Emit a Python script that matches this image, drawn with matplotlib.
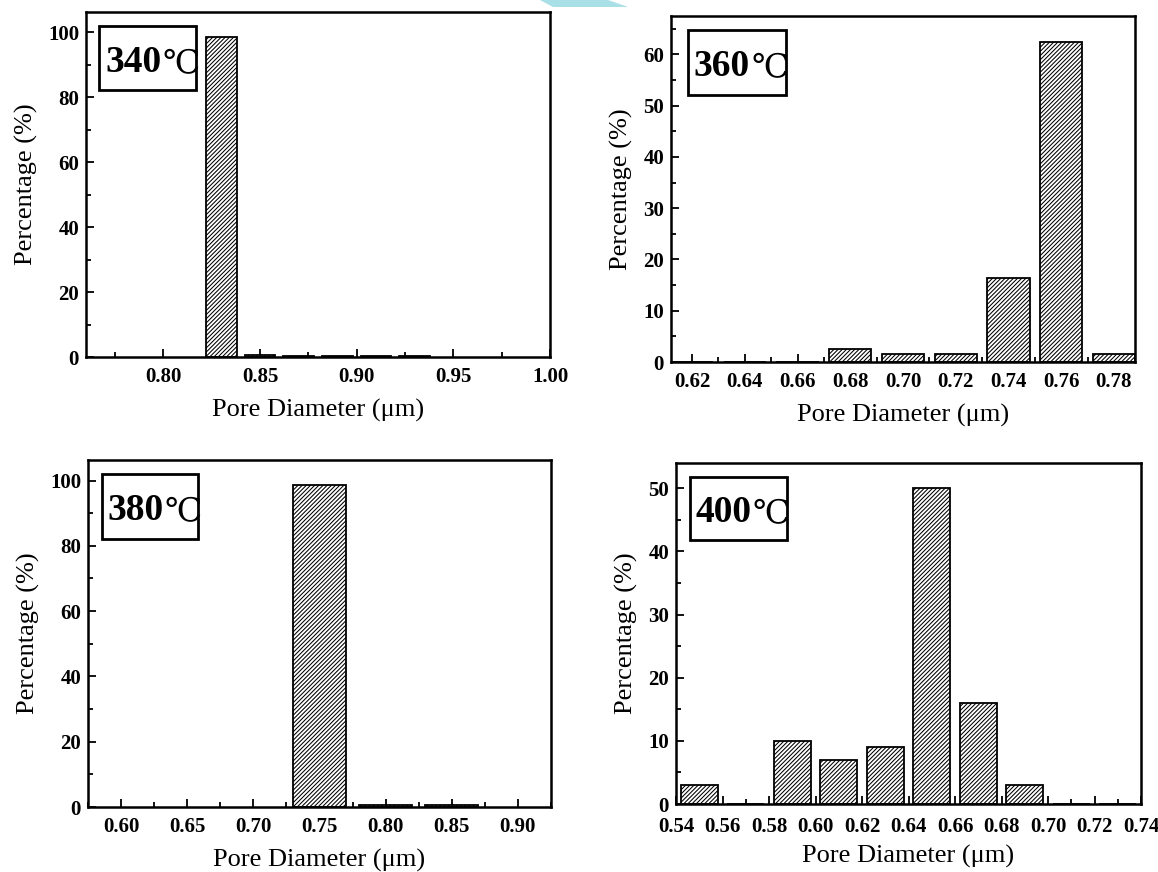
import matplotlib
matplotlib.use("Agg")
import matplotlib.pyplot as plt
from matplotlib.patches import Rectangle, Polygon
from matplotlib.ticker import MultipleLocator, FormatStrFormatter

plt.rcParams["font.family"] = ["Liberation Serif", "DejaVu Serif", "DejaVu Sans"]
plt.rcParams["hatch.linewidth"] = 0.75
plt.rcParams["hatch.color"] = "#333333"

W, H = 1158, 872

# ── Data ────────────────────────────────────────────────────────────────────
d340_x = [0.83, 0.85, 0.87, 0.89, 0.91, 0.93]
d340_y = [98.4, 0.6, 0.4, 0.2, 0.2, 0.2]

d360_x = [0.62, 0.64, 0.66, 0.68, 0.70, 0.72, 0.74, 0.76, 0.78]
d360_y = [0.0, 0.0, 0.0, 2.5, 1.5, 1.6, 16.3, 62.5, 1.6]

d380_x = [0.75, 0.80, 0.85]
d380_y = [98.6, 0.5, 0.5]

d400_x = [0.55, 0.57, 0.59, 0.61, 0.63, 0.65, 0.67, 0.69, 0.71, 0.73]
d400_y = [3.0, 0.0, 10.0, 7.0, 9.0, 50.0, 16.0, 3.0, 0.0, 0.0]

labels = ["340", "360", "380", "400"]

# panel geometry in pixels: left, right, top, bottom
panels = [
    dict(box=(86, 550, 12, 357), x=d340_x, y=d340_y, w=0.016, xlim=(0.76, 1.00),
         ylim=(0, 106.2), xmaj=0.05, xmin=0.025, ymaj=20, ymin=10,
         xticks=(0.80, 1.00), lab=labels[0], tb=(0.029, 0.237), xpad=7),
    dict(box=(671, 1135, 16, 362), x=d360_x, y=d360_y, w=0.016, xlim=(0.612, 0.788),
         ylim=(0, 67.5), xmaj=0.02, xmin=0.01, ymaj=10, ymin=5,
         xticks=(0.62, 0.78), lab=labels[1], tb=(0.037, 0.248), xpad=7),
    dict(box=(88, 551, 460, 807), x=d380_x, y=d380_y, w=0.04, xlim=(0.575, 0.925),
         ylim=(0, 106.3), xmaj=0.05, xmin=0.025, ymaj=20, ymin=10,
         xticks=(0.60, 0.90), lab=labels[2], tb=(0.030, 0.237), xpad=7),
    dict(box=(676, 1141, 463, 804), x=d400_x, y=d400_y, w=0.016, xlim=(0.54, 0.74),
         ylim=(0, 54.0), xmaj=0.02, xmin=0.01, ymaj=10, ymin=5,
         xticks=(0.54, 0.74), lab=labels[3], tb=(0.030, 0.239), xpad=9),
]

fig = plt.figure(figsize=(W / 100, H / 100), dpi=100)

for p in panels:
    l, r, t, b = p["box"]
    ax = fig.add_axes([l / W, 1 - b / H, (r - l) / W, (b - t) / H])
    ax.bar(p["x"], p["y"], width=p["w"], facecolor="white", edgecolor="black",
           linewidth=1.3, hatch="////////", zorder=2)

    lo, hi = p["xticks"]
    n = int(round((hi - lo) / p["xmaj"]))
    ax.set_xticks([lo + i * p["xmaj"] for i in range(n + 1)])
    ax.xaxis.set_major_formatter(FormatStrFormatter("%.2f"))
    ax.xaxis.set_minor_locator(MultipleLocator(p["xmin"]))
    ax.yaxis.set_major_locator(MultipleLocator(p["ymaj"]))
    ax.yaxis.set_minor_locator(MultipleLocator(p["ymin"]))
    ax.set_xlim(*p["xlim"])
    ax.set_ylim(*p["ylim"])

    ax.tick_params(which="both", direction="in", top=False, right=False, width=1.3)
    ax.tick_params(which="major", length=6)
    ax.tick_params(which="minor", length=3.5)
    ax.tick_params(axis="x", pad=p["xpad"], labelsize=15)
    ax.tick_params(axis="y", pad=5, labelsize=15)
    for lbl in ax.get_xticklabels() + ax.get_yticklabels():
        lbl.set_fontweight("bold")
    for sp in ax.spines.values():
        sp.set_linewidth(1.8)

    ax.set_xlabel("Pore Diameter (μm)", fontsize=19, labelpad=9 if p["xpad"] == 7 else 6)
    ax.set_ylabel("Percentage (%)", fontsize=19, labelpad=7)

    # temperature label box
    x0, x1 = p["tb"]
    ax.add_patch(Rectangle((x0, 0.773), x1 - x0, 0.187, transform=ax.transAxes,
                           fill=False, edgecolor="black", linewidth=2.0,
                           zorder=5, clip_on=False))
    t1 = ax.text(x0 + 0.012, 0.826, p["lab"], transform=ax.transAxes,
                 fontsize=27, fontweight="bold", ha="left", va="baseline",
                 zorder=6)
    ax.annotate("℃", xy=(1, 0), xycoords=t1, xytext=(1, 0),
                textcoords="offset points", fontsize=24, ha="left",
                va="bottom", zorder=6)

# light-blue watermark fragment at the top edge
fig.patches.append(Polygon([(540 / W, 1.0), (608 / W, 1.0), (628 / W, 1 - 7 / H),
                            (553 / W, 1 - 7 / H)], closed=True,
                           transform=fig.transFigure, facecolor="#a9dfe6",
                           edgecolor="none"))

fig.savefig("out.png", dpi=100)
